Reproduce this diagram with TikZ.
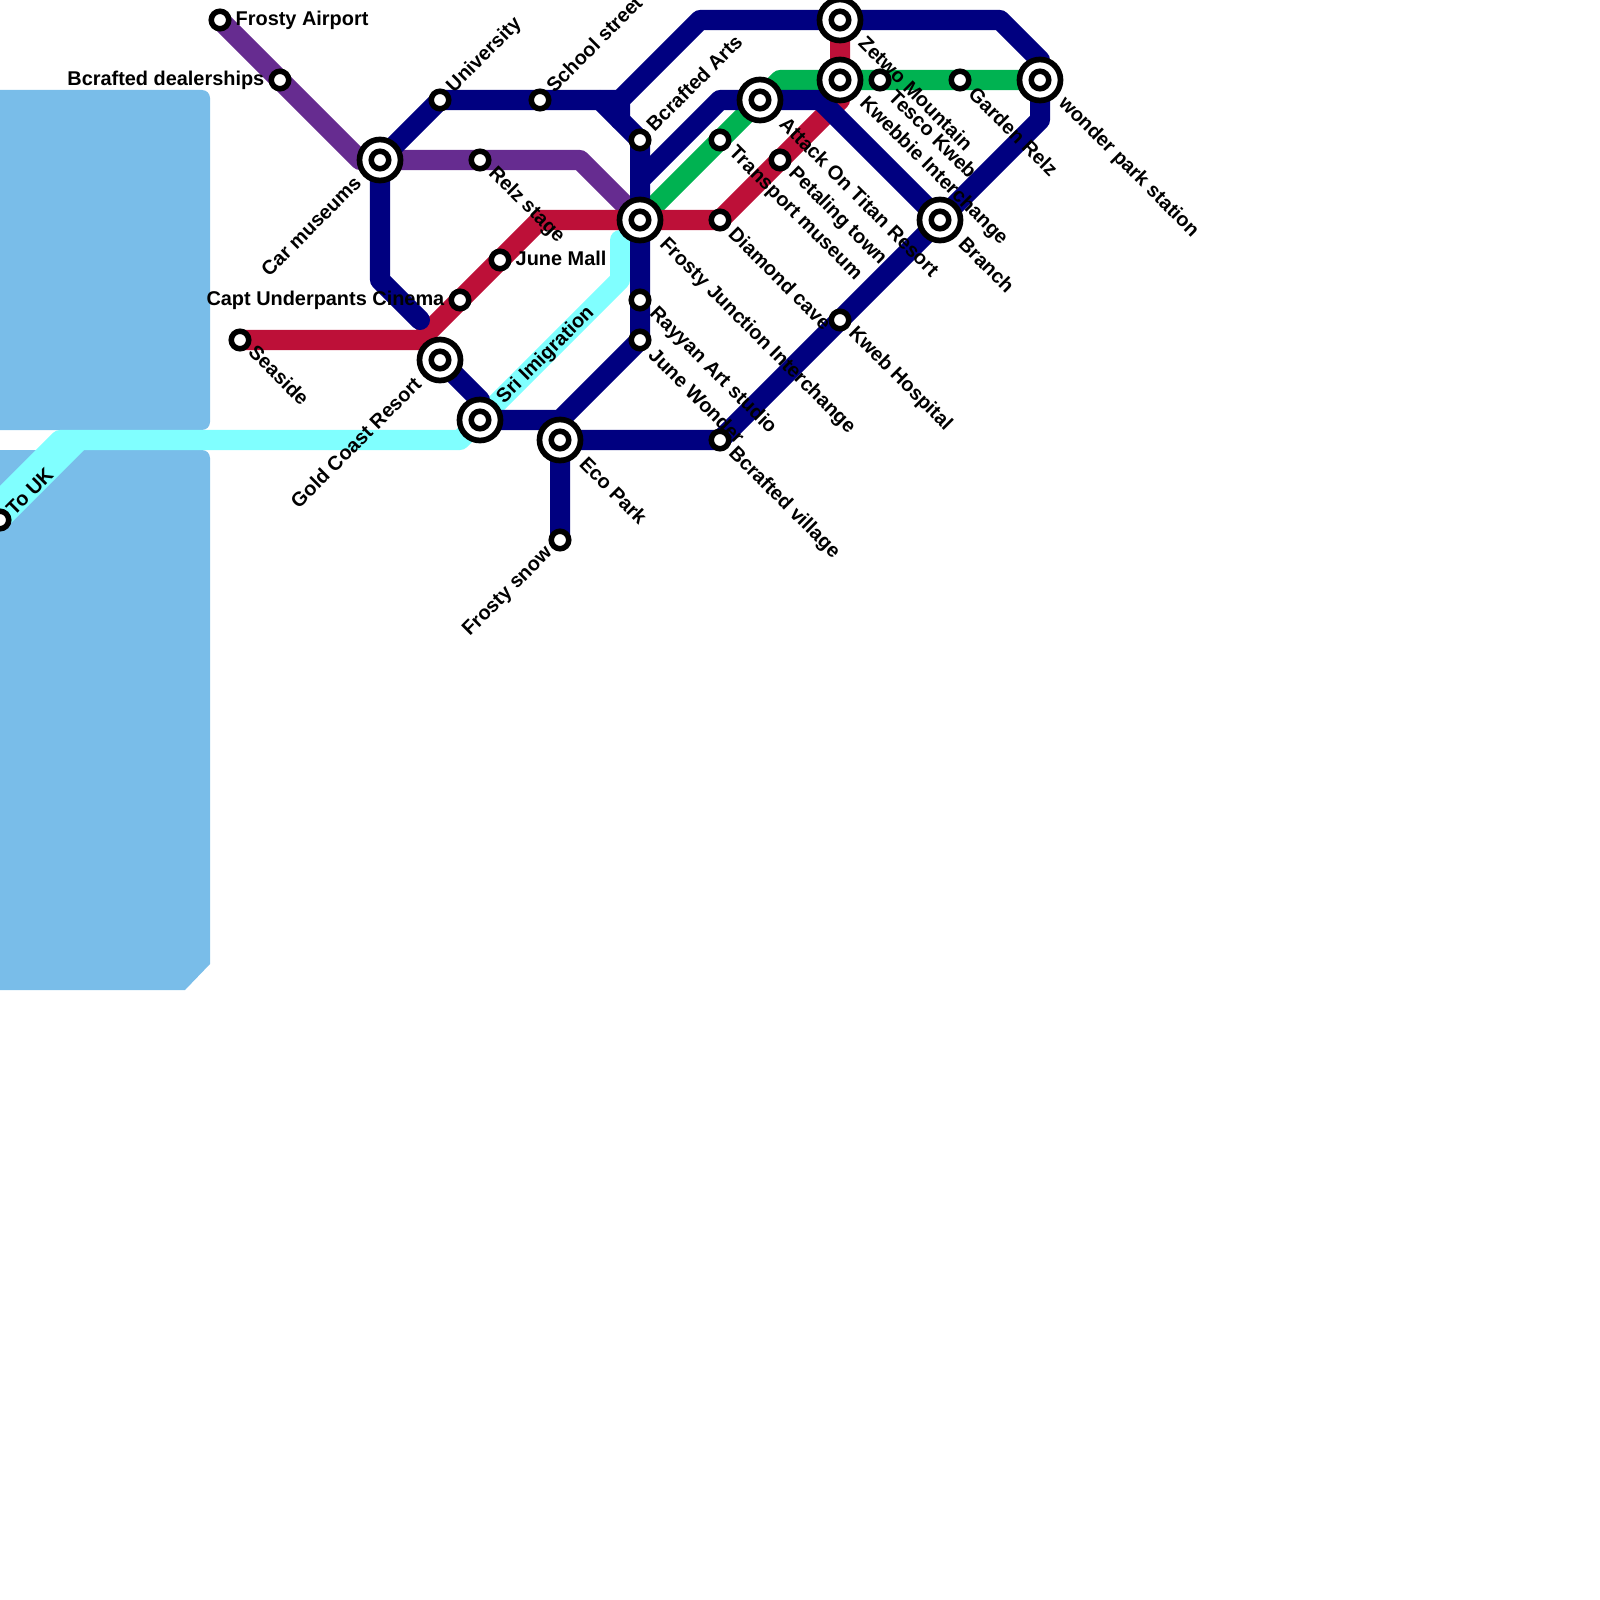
\documentclass[tikz,border=0pt]{standalone}
\usepackage{fontspec}
\setmainfont{Liberation Sans}
\usetikzlibrary{backgrounds}
\definecolor{seablue}{HTML}{79BDE9}
\definecolor{navyline}{HTML}{000080}
\definecolor{redline}{HTML}{BD1038}
\definecolor{purpleline}{HTML}{662C90}
\definecolor{greenline}{HTML}{00B251}
\definecolor{cyanline}{HTML}{80FFFF}
\tikzset{
	railline/.style={line width=2mm,line cap=round,line join=round},
	stn/.style={circle,draw=black,fill=white,line width=0.55mm,outer sep=0pt,minimum size=0.175cm,inner sep=0pt},
	xchg/.style={stn,minimum size=0.41cm,line width=0.57mm},
	lbl/.style={inner sep=0pt,font=\fontsize{5.66}{6.8}\selectfont\bfseries},
	lblse/.style={lbl,rotate=-45,anchor=west},
	lblne/.style={lbl,rotate=45,anchor=west},
	lblsw/.style={lbl,rotate=45,anchor=east},
	lble/.style={lbl,anchor=west},
	lblw/.style={lbl,anchor=east},
}
\begin{document}
\begin{tikzpicture}[x=0.01cm,y=-0.01cm]
	\useasboundingbox (0,0) rectangle (1600,1600);
	% stations
	\node[stn] (airport) at (220,20){};
	\node[stn] (dealers) at (280,80){};
	\node[xchg] (carmus) at (380,160){};
	\node[stn] (univ) at (440,100){};
	\node[stn] (school) at (540,100){};
	\node[stn] (relz) at (480,160){};
	\node[stn] (juneml) at (500,260){};
	\node[stn] (capt) at (460,300){};
	\node[stn] (seaside) at (240,340){};
	\node[xchg] (gold) at (440,360){};
	\node[xchg] (sri) at (480,420){};
	\node[xchg] (eco) at (560,440){};
	\node[stn] (snow) at (560,540){};
	\node[stn] (touk) at (0,520){};
	\node[stn] (arts) at (640,140){};
	\node[xchg] (fjunc) at (640,220){};
	\node[stn] (rayyan) at (640,300){};
	\node[stn] (junew) at (640,340){};
	\node[stn] (transp) at (720,140){};
	\node[stn] (diamond) at (720,220){};
	\node[stn] (village) at (720,440){};
	\node[xchg] (attack) at (760,100){};
	\node[stn] (petal) at (780,160){};
	\node[xchg] (zetwo) at (840,20){};
	\node[xchg] (kwebbie) at (840,80){};
	\node[stn] (hosp) at (840,320){};
	\node[stn] (tesco) at (880,80){};
	\node[xchg] (branch) at (940,220){};
	\node[stn] (garden) at (960,80){};
	\node[xchg] (wonder) at (1040,80){};
	% inner rings
	\node[stn] (carmusin) at (carmus.center){};
	\node[stn] (goldin) at (gold.center){};
	\node[stn] (sriin) at (sri.center){};
	\node[stn] (ecoin) at (eco.center){};
	\node[stn] (fjuncin) at (fjunc.center){};
	\node[stn] (attackin) at (attack.center){};
	\node[stn] (zetwoin) at (zetwo.center){};
	\node[stn] (kwebbiein) at (kwebbie.center){};
	\node[stn] (branchin) at (branch.center){};
	\node[stn] (wonderin) at (wonder.center){};
	% bends
	\coordinate (nav1) at (600,100);
	\coordinate (nav2) at (620,100);
	\coordinate (nav3) at (620,120);
	\coordinate (nav4) at (700,20);
	\coordinate (nav5) at (1000,20);
	\coordinate (nav6) at (1040,60);
	\coordinate (nav7) at (1040,120);
	\coordinate (nav8) at (640,180);
	\coordinate (nav9) at (720,100);
	\coordinate (nav10) at (820,100);
	\coordinate (nav11) at (380,280);
	\coordinate (nav12) at (420,320);
	\coordinate (nav13) at (480,400);
	\coordinate (nav14) at (560,420);
	\coordinate (red1) at (420,340);
	\coordinate (red2) at (540,220);
	\coordinate (red3) at (840,100);
	\coordinate (pur1) at (580,160);
	\coordinate (pur2) at (360,160);
	\coordinate (grn1) at (780,80);
	\coordinate (cya1) at (620,240);
	\coordinate (cya2) at (620,280);
	\coordinate (cya3) at (460,440);
	\coordinate (cya4) at (80,440);
	\coordinate (cya5) at (60,440);
	\coordinate (cya6) at (0,500);
	% sea and lines go under the stations
	\begin{scope}[on background layer]
		\fill[seablue,rounded corners=0.08cm] (-20,90) -- (210,90) -- (210,430) -- (-20,430) -- cycle;
		\fill[seablue] (-20,450) [rounded corners=0.08cm] -- (210,450) [sharp corners] -- (210,964) -- (185,990) -- (-20,990) -- cycle;
		\draw[railline,cyanline] (cya1) -- (cya2) -- (cya3) -- (cya5) -- (cya6);
		\draw[railline,cyanline] (cya4) -- (touk.center);
		\draw[railline,greenline] (fjunc.center) -- (grn1) -- (wonder.center);
		\draw[railline,purpleline] (airport.center) -- (pur2) -- (pur1) -- (fjunc.center);
		\draw[railline,redline] (seaside.center) -- (red1) -- (red2) -- (diamond.center) -- (red3) -- (zetwo.center);
		\draw[railline,navyline] (carmus.center) -- (univ.center) -- (nav2);
		\draw[railline,navyline] (nav1) -- (arts.center) -- (junew.center) -- (nav14) -- (sri.center) -- (nav13) -- (gold.center);
		\draw[railline,navyline] (nav3) -- (nav2) -- (nav4) -- (nav5) -- (nav6) -- (nav7) -- (village.center) -- (eco.center) -- (snow.center);
		\draw[railline,navyline] (nav8) -- (nav9) -- (nav10) -- (branch.center);
		\draw[railline,navyline] (carmus.center) -- (nav11) -- (nav12);
		\draw[railline,navyline] (nav14) -- (eco.center);
	\end{scope}
	% labels
	\node[lble] (airportlbl) at (235,20){Frosty Airport};
	\node[lblw] (dealerslbl) at (265,80){Bcrafted dealerships};
	\node[lblsw] (carmuslbl) at (358,179){Car museums};
	\node[lblne] (univlbl) at (450,90){University};
	\node[lblne] (schoollbl) at (549,89){School street};
	\node[lblse] (relzlbl) at (491,170){Relz stage};
	\node[lble] (junemllbl) at (515,258){June Mall};
	\node[lblw] (captlbl) at (445,300){Capt Underpants Cinema};
	\node[lblse] (seasidelbl) at (252,348){Seaside};
	\node[lblsw] (goldlbl) at (418,380){Gold Coast Resort};
	\node[lblne] (srilbl) at (500,401){Sri Imigration};
	\node[lblse] (ecolbl) at (583,460){Eco Park};
	\node[lblsw] (snowlbl) at (550,550){Frosty snow};
	\node[lblne] (toukl) at (9,512){To UK};
	\node[lblne] (artslbl) at (649,128){Bcrafted Arts};
	\node[lblse] (fjunclbl) at (662,241){Frosty Junction Interchange};
	\node[lblse] (rayyanlbl) at (652,310){Rayyan Art studio};
	\node[lblse] (junewlbl) at (652,351){June Wonder};
	\node[lblse] (transplbl) at (731,150){Transport museum};
	\node[lblse] (diamondlbl) at (732,230){Diamond cave};
	\node[lblse] (villagelbl) at (731,450){Bcrafted village};
	\node[lblse] (attacklbl) at (783,120){Attack On Titan Resort};
	\node[lblse] (petallbl) at (791,170){Petaling town};
	\node[lblse] (zetwolbl) at (862,39){Zetwo Mountain};
	\node[lblse] (kwebbielbl) at (862,100){Kwebbie Interchange};
	\node[lblse] (hosplbl) at (851,330){Kweb Hospital};
	\node[lblse] (tescolbl) at (892,93){Tesco Kweb};
	\node[lblse] (branchlbl) at (962,240){Branch};
	\node[lblse] (gardenlbl) at (972,90){Garden Relz};
	\node[lblse] (wonderlbl) at (1061,100){wonder park station};
\end{tikzpicture}
\end{document}
